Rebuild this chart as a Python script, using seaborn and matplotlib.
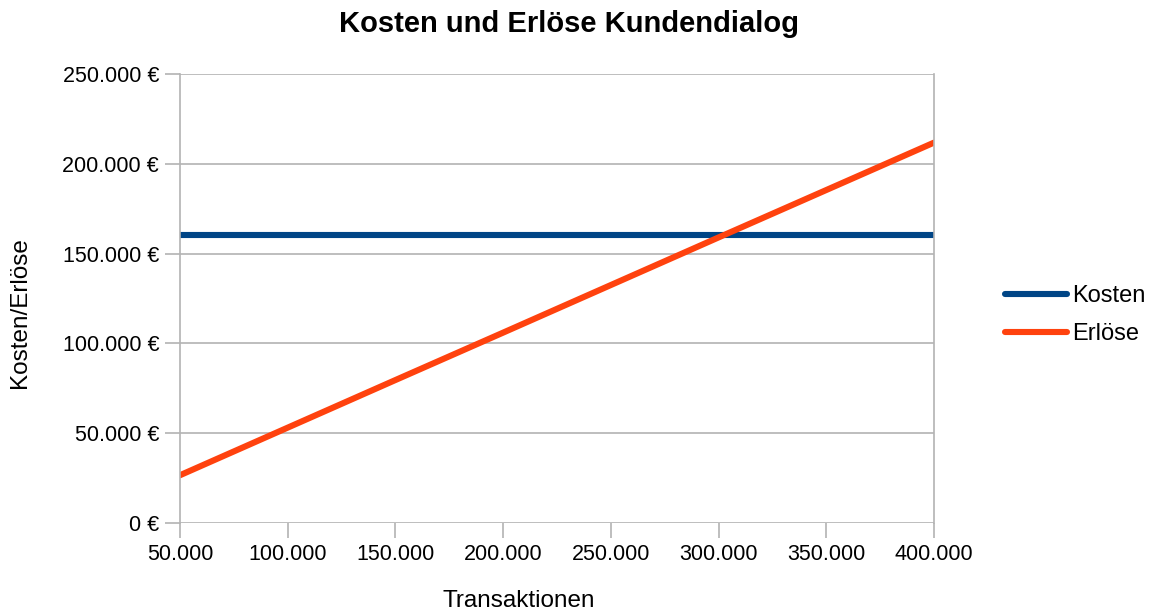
import matplotlib
matplotlib.use("Agg")
import matplotlib.pyplot as plt
import seaborn as sns
import pandas as pd
from matplotlib.ticker import FuncFormatter, FixedLocator
from matplotlib.lines import Line2D

transaktionen = [50000, 100000, 150000, 200000, 250000, 300000, 350000, 400000]
kosten = [160300, 160300, 160300, 160300, 160300, 160300, 160300, 160300]
erloese = [26600, 53100, 79600, 106000, 132500, 159000, 185400, 211800]
series_names = ["Kosten", "Erlöse"]
colors = ["#004586", "#ff420e"]
y_ticks = [0, 50000, 100000, 150000, 200000, 250000]
x_ticks = [50000, 100000, 150000, 200000, 250000, 300000, 350000, 400000]

df = pd.DataFrame({
    "Transaktionen": transaktionen * 2,
    "Wert": kosten + erloese,
    "Serie": [series_names[0]] * len(kosten) + [series_names[1]] * len(erloese),
})

sns.set_theme(style="white")
plt.rcParams["font.family"] = ["Liberation Sans", "DejaVu Sans"]
plt.rcParams["text.color"] = "black"
plt.rcParams["axes.labelcolor"] = "black"

fig = plt.figure(figsize=(11.52, 6.12), dpi=100)
ax = fig.add_axes([180 / 1152, 89 / 612, 754 / 1152, 449 / 612])

sns.lineplot(data=df, x="Transaktionen", y="Wert", hue="Serie",
             palette=colors, linewidth=4.4, ax=ax, legend=False)

ax.set_xlim(50000, 400000)
ax.set_ylim(0, 250000)
ax.xaxis.set_major_locator(FixedLocator(x_ticks))
ax.yaxis.set_major_locator(FixedLocator(y_ticks))


def de(v):
    return f"{int(v):,}".replace(",", ".")


ax.xaxis.set_major_formatter(FuncFormatter(lambda v, p: de(v)))
ax.yaxis.set_major_formatter(FuncFormatter(lambda v, p: f"{de(v)} €"))

ax.grid(axis="y", color="#b3b3b3", linewidth=1.2)
ax.set_axisbelow(True)
for s in ["top", "bottom"]:
    ax.spines[s].set_visible(False)
for s in ["left", "right"]:
    ax.spines[s].set_visible(True)
    ax.spines[s].set_color("#b3b3b3")
    ax.spines[s].set_linewidth(1.2)

ax.tick_params(axis="both", which="major", length=11, width=1.2,
               color="#b3b3b3", labelsize=15.5, labelcolor="black", pad=4)
ax.tick_params(axis="y", left=True, right=False)
ax.tick_params(axis="x", bottom=True)

ax.set_xlabel("Transaktionen", fontsize=17.5)
ax.set_ylabel("Kosten/Erlöse", fontsize=17.5)
ax.xaxis.set_label_coords((519 - 180) / 754, (523 - 590) / 449)
ax.yaxis.set_label_coords((31 - 180) / 754, (523 - 313) / 449)
fig.suptitle("Kosten und Erlöse Kundendialog", fontsize=21, fontweight="bold",
             x=569 / 1152, y=1 - 24 / 612, va="center", color="black")

handles = [Line2D([], [], color=c, linewidth=4.4) for c in colors]
fig.legend(handles, series_names, loc="center left",
           bbox_to_anchor=(984 / 1152, 1 - 315 / 612), frameon=False,
           fontsize=17, handlelength=2.6, handletextpad=0.25, labelspacing=0.68)

fig.savefig("out.png", dpi=100)
